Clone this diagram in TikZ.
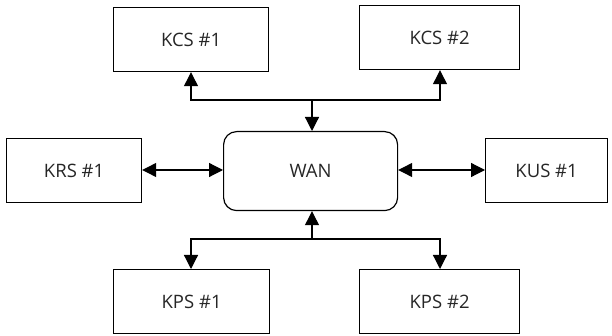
\documentclass[tikz,border=0pt]{standalone}
\usepackage{fontspec}
\setmainfont{Open Sans}
\usetikzlibrary{arrows.meta}
\begin{document}
\begin{tikzpicture}[x=1pt,y=-1pt,
  box/.style={draw,line width=1.2pt,inner sep=0pt,anchor=north west,
    font=\fontsize{18.5}{20}\selectfont,text=black!85},
  tip/.tip={Triangle[length=14pt,width=14pt]},
  link/.style={line width=1.2pt,-tip},
  both/.style={line width=1.2pt,tip-tip}]
  \useasboundingbox (0,0) rectangle (612,336);

  % servers around the network
  \node[box,minimum width=155pt,minimum height=64pt] (kcs1) at (113,7) {KCS \#1};
  \node[box,minimum width=160pt,minimum height=64pt] (kcs2) at (359,5) {KCS \#2};
  \node[box,minimum width=135pt,minimum height=64pt] (krs1) at (6,138) {KRS \#1};
  \node[box,minimum width=122pt,minimum height=64pt] (kus1) at (485,138) {KUS \#1};
  \node[box,minimum width=156pt,minimum height=64pt] (kps1) at (113,269) {KPS \#1};
  \node[box,minimum width=160pt,minimum height=64pt] (kps2) at (359,269) {KPS \#2};
  \node[box,rounded corners=13pt,minimum width=174pt,minimum height=79pt] (wan) at (223,131) {WAN};

  % bus junctions
  \coordinate (top) at (312,100);
  \coordinate (bot) at (312,239);

  % upper bus
  \draw[link] (top) -- (wan.north -| top);
  \draw[link] (top) -| (kcs1.south -| 191,0);
  \draw[link] (top) -| (kcs2.south -| 440,0);

  % lower bus
  \draw[link] (bot) -- (wan.south -| bot);
  \draw[link] (bot) -| (kps1.north -| 191,0);
  \draw[link] (bot) -| (kps2.north -| 440,0);

  % side links
  \draw[both] (krs1.east |- 0,170) -- (wan.west |- 0,170);
  \draw[both] (wan.east |- 0,170) -- (kus1.west |- 0,170);
\end{tikzpicture}
\end{document}
